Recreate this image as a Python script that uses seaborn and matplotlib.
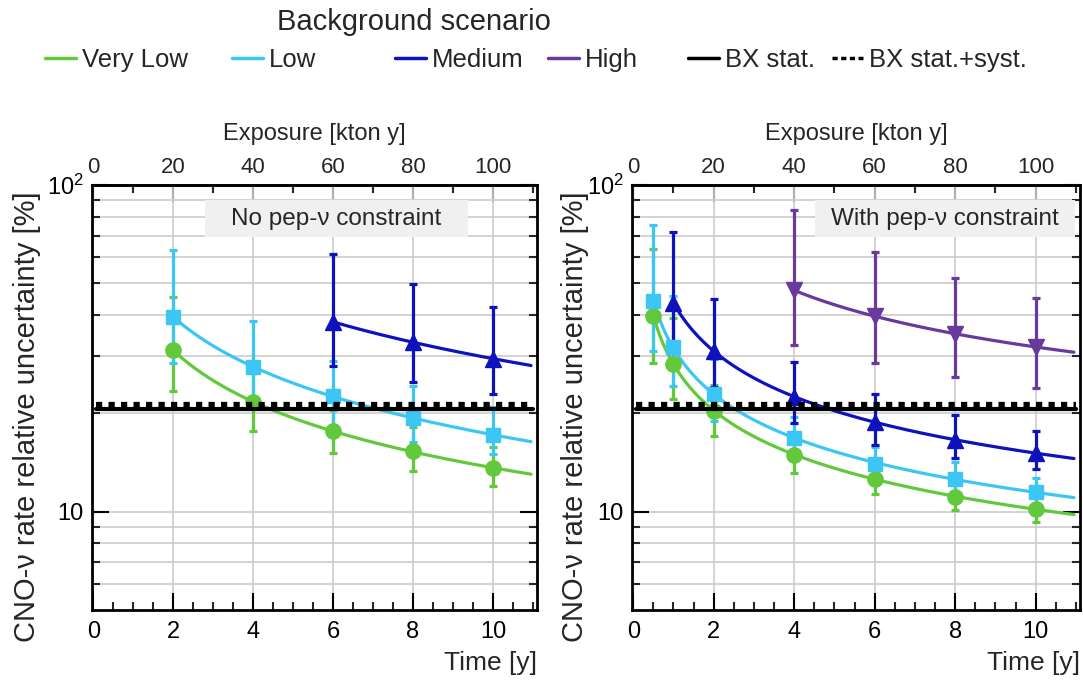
import numpy as np
import pandas as pd
import matplotlib
matplotlib.use('Agg')
import matplotlib.pyplot as plt
from matplotlib.lines import Line2D
from matplotlib.patches import Rectangle
from matplotlib.ticker import FixedLocator, MultipleLocator, NullFormatter
import seaborn as sns

sns.set_theme(style='ticks')
plt.rcParams['font.family'] = ['Liberation Sans', 'DejaVu Sans']
plt.rcParams['mathtext.default'] = 'regular'

# Scenario styles
scenarios = ['Very Low', 'Low', 'Medium', 'High']
colors = {'Very Low': '#62c83c', 'Low': '#3cc6f4', 'Medium': '#0d12bd', 'High': '#69399d'}
markers = {'Very Low': 'o', 'Low': 's', 'Medium': '^', 'High': 'v'}
msizes = {'Very Low': 11, 'Low': 10, 'Medium': 11, 'High': 11}

# Borexino reference lines [%]
bx_stat = 20.6
bx_syst = 21.2

# ---- No pep-nu constraint (left) ----
t_vlow_a = [2, 4, 6, 8, 10]
y_vlow_a = [31.2, 21.7, 17.6, 15.3, 13.6]
hi_vlow_a = [45.4, 26.5, 20.5, 18.1, 15.8]
lo_vlow_a = [23.4, 17.7, 15.1, 13.3, 12.0]

t_low_a = [2, 4, 6, 8, 10]
y_low_a = [39.5, 27.7, 22.6, 19.3, 17.2]
hi_low_a = [63.1, 38.4, 29.0, 24.2, 20.9]
lo_low_a = [28.5, 21.0, 18.4, 16.3, 15.0]

t_med_a = [6, 8, 10]
y_med_a = [38.1, 33.0, 29.4]
hi_med_a = [61.4, 49.7, 42.4]
lo_med_a = [27.9, 25.0, 23.0]

# ---- With pep-nu constraint (right) ----
t_vlow_b = [0.5, 1, 2, 4, 6, 8, 10]
y_vlow_b = [39.7, 28.4, 20.4, 14.9, 12.6, 11.1, 10.2]
hi_vlow_b = [63.9, 39.2, 24.5, 17.0, 13.9, 12.2, 11.1]
lo_vlow_b = [28.5, 22.1, 17.1, 13.1, 11.3, 10.1, 9.3]

t_low_b = [0.5, 1, 2, 4, 6, 8, 10]
y_low_b = [44.2, 31.9, 22.9, 16.8, 14.0, 12.6, 11.5]
hi_low_b = [75.4, 45.7, 29.4, 19.5, 15.8, 14.2, 12.7]
lo_low_b = [31.0, 24.2, 19.0, 14.8, 12.6, 11.3, 10.5]

t_med_b = [1, 2, 4, 6, 8, 10]
y_med_b = [43.5, 31.0, 22.5, 18.8, 16.6, 15.1]
hi_med_b = [71.9, 44.9, 28.8, 23.0, 19.8, 17.7]
lo_med_b = [30.6, 24.0, 18.7, 16.0, 14.6, 13.5]

t_high_b = [4, 6, 8, 10]
y_high_b = [47.6, 39.6, 35.1, 31.9]
hi_high_b = [83.8, 62.4, 51.8, 45.1]
lo_high_b = [32.4, 28.5, 25.8, 23.9]

# tick positions
time_ticks = [0, 2, 4, 6, 8, 10]
expo_ticks = [0, 20, 40, 60, 80, 100]
expo_minor = [10, 30, 50, 70, 90, 110]


def make_df(panel, scen, t, y, hi, lo):
    return pd.DataFrame({'panel': panel, 'scenario': scen, 'time': t,
                         'unc': y, 'hi': hi, 'lo': lo})


df = pd.concat([
    make_df('a', 'Very Low', t_vlow_a, y_vlow_a, hi_vlow_a, lo_vlow_a),
    make_df('a', 'Low', t_low_a, y_low_a, hi_low_a, lo_low_a),
    make_df('a', 'Medium', t_med_a, y_med_a, hi_med_a, lo_med_a),
    make_df('b', 'Very Low', t_vlow_b, y_vlow_b, hi_vlow_b, lo_vlow_b),
    make_df('b', 'Low', t_low_b, y_low_b, hi_low_b, lo_low_b),
    make_df('b', 'Medium', t_med_b, y_med_b, hi_med_b, lo_med_b),
    make_df('b', 'High', t_high_b, y_high_b, hi_high_b, lo_high_b),
], ignore_index=True)

t_end = 10.95
xlim = (-0.03, 11.1)

W, H = 1083, 683
fig = plt.figure(figsize=(W / 100, H / 100), dpi=100)
ax_a = fig.add_axes([92 / W, 1 - 610 / H, 445 / W, 425 / H])
ax_b = fig.add_axes([632 / W, 1 - 610 / H, 448 / W, 425 / H])

# axes, label, box [x0, x1] in axes fraction, y-label x position
panels = [(ax_a, 'a', 'No pep-ν constraint', (0.254, 0.845), -0.115),
          (ax_b, 'b', 'With pep-ν constraint', (0.408, 0.989), -0.096)]

for ax, key, label, (bx0, bx1), ylab_x in panels:
    ax.set_yscale('log')
    ax.set_xlim(*xlim)
    ax.set_ylim(5, 100)
    sub = df[df.panel == key]

    # smooth trend through the points (log-log quadratic fit)
    for scen in scenarios:
        d = sub[sub.scenario == scen]
        if d.empty:
            continue
        coef = np.polyfit(np.log(d.time), np.log(d.unc), 2)
        tt = np.linspace(d.time.iloc[0], t_end, 200)
        sns.lineplot(x=tt, y=np.exp(np.polyval(coef, np.log(tt))), ax=ax,
                     color=colors[scen], lw=2.3, estimator=None, zorder=3)

    for scen in scenarios:
        d = sub[sub.scenario == scen]
        if d.empty:
            continue
        ax.errorbar(d.time, d.unc, yerr=[d.unc - d.lo, d.hi - d.unc],
                    fmt=markers[scen], color=colors[scen], ms=msizes[scen],
                    elinewidth=2.3, capsize=3, capthick=2.3, zorder=4)

    ax.axhline(bx_stat, xmin=0.01, xmax=0.99, color='black', lw=3, zorder=5)
    ax.axhline(bx_syst, xmin=0.01, xmax=0.99, color='black', lw=4.5,
               ls=(0, (1, 1)), zorder=5)

    # ticks and grid
    ax.xaxis.set_major_locator(FixedLocator(time_ticks))
    ax.xaxis.set_minor_locator(MultipleLocator(0.5))
    ax.yaxis.set_major_locator(FixedLocator([10, 100]))
    ax.yaxis.set_minor_locator(FixedLocator([6, 7, 8, 9, 20, 30, 40, 50, 60, 70, 80, 90]))
    ax.yaxis.set_minor_formatter(NullFormatter())
    ax.set_yticklabels(['10', '$10^2$'])
    ax.tick_params(axis='both', which='major', direction='in', length=12, width=1.5,
                   labelsize=17, colors='black')
    ax.tick_params(axis='both', which='minor', direction='in', length=6, width=1.5)
    ax.tick_params(axis='x', top=False, pad=8)
    ax.tick_params(axis='y', right=True, which='both', pad=6)
    ax.grid(True, which='major', axis='x', color='#cccccc', lw=1.2)
    ax.grid(True, which='both', axis='y', color='#cccccc', lw=1.2)
    for s in ax.spines.values():
        s.set_linewidth(2)
        s.set_color('black')

    ax.set_xlabel('Time [y]', fontsize=19, loc='right', labelpad=6)
    ax.set_ylabel('CNO-ν rate relative uncertainty [%]', fontsize=21)
    ax.yaxis.set_label_coords(ylab_x, 0.456)

    top = ax.secondary_xaxis('top', functions=(lambda t: t * 10, lambda e: e / 10))
    top.xaxis.set_major_locator(FixedLocator(expo_ticks))
    top.xaxis.set_minor_locator(FixedLocator(expo_minor))
    top.tick_params(which='major', direction='in', length=12, width=1.5, labelsize=16, pad=5)
    top.tick_params(which='minor', direction='in', length=6, width=1.5)
    top.spines['top'].set_linewidth(2)
    top.set_xlabel('Exposure [kton y]', fontsize=17, labelpad=12)

    ax.add_patch(Rectangle((bx0, 0.878), bx1 - bx0, 0.087, transform=ax.transAxes,
                           facecolor='#f0f0f0', edgecolor='none', zorder=6))
    ax.text((bx0 + bx1) / 2, 0.921, label, transform=ax.transAxes, ha='center',
            va='center', fontsize=17.5, zorder=7)

# legend across the top
fig.text(414 / W, 1 - 22 / H, 'Background scenario', ha='center', va='center', fontsize=21)
entries = [('Very Low', colors['Very Low'], '-', 45),
           ('Low', colors['Low'], '-', 232),
           ('Medium', colors['Medium'], '-', 395),
           ('High', colors['High'], '-', 548),
           ('BX stat.', 'black', '-', 688),
           ('BX stat.+syst.', 'black', (0, (1.5, 1)), 832)]
for name, c, ls, xpos in entries:
    h = Line2D([], [], color=c, ls=ls, lw=2.5)
    fig.legend(handles=[h], labels=[name], loc='center left',
               bbox_to_anchor=(xpos / W, 1 - 60 / H), frameon=False,
               fontsize=18.5, handlelength=1.2, handletextpad=0.25,
               borderpad=0, borderaxespad=0)

fig.savefig('out.png', dpi=100)
